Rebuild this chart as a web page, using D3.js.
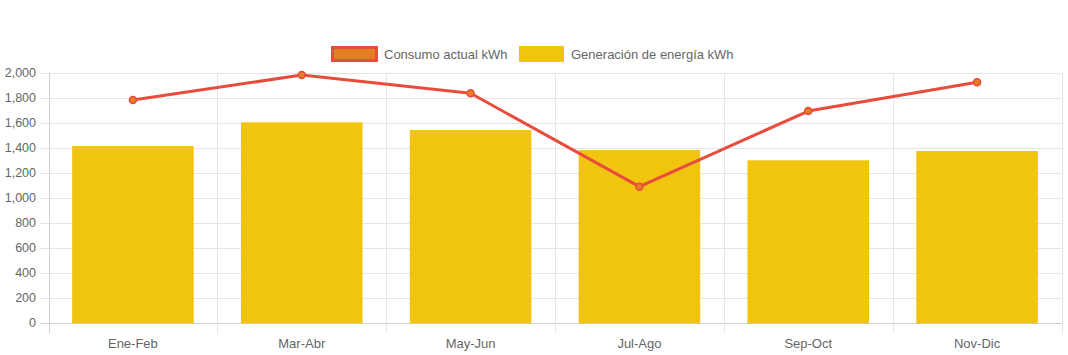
<!DOCTYPE html>
<html><head><meta charset="utf-8">
<script src="https://cdn.jsdelivr.net/npm/d3@7"></script>
<style>
html,body{margin:0;padding:0;background:#fff;}
svg{display:block;}
text{font-family:"Liberation Sans",Arial,sans-serif;}
</style></head>
<body>
<svg id="c" width="1068" height="355"></svg>
<script>
const categories = ["Ene-Feb","Mar-Abr","May-Jun","Jul-Ago","Sep-Oct","Nov-Dic"];
const consumo = [1786, 1986, 1840, 1093, 1698, 1928];
const generacion = [1418, 1608, 1546, 1386, 1304, 1378];
const yTicks = [0,200,400,600,800,1000,1200,1400,1600,1800,2000];
const seriesNames = ["Consumo actual kWh","Generación de energía kWh"];

const svg = d3.select("#c");
const L = 48.5, R = 1061.5, T = 73.3, B = 323.3;
const x = d3.scaleBand().domain(categories).range([L, R]).padding(0);
const y = d3.scaleLinear().domain([0, 2000]).range([B, T]);
const fmt = d3.format(",");

// horizontal grid + y tick marks
const gy = svg.append("g");
yTicks.forEach(t => {
  gy.append("line").attr("x1", 40).attr("x2", R).attr("y1", Math.round(y(t))+0.5).attr("y2", Math.round(y(t))+0.5)
    .attr("stroke", t===0 ? "#d0d0d0" : "#e5e5e5").attr("stroke-width", 1);
  gy.append("text").attr("x", 36).attr("y", Math.round(y(t))).attr("dy", "0.35em")
    .attr("text-anchor", "end").attr("font-size", 12.5).attr("fill", "#666").text(fmt(t));
});
// vertical grid lines
const bounds = categories.map(c => x(c)).concat([R]);
bounds.forEach((bx, i) => {
  svg.append("line").attr("x1", Math.round(bx)+0.5).attr("x2", Math.round(bx)+0.5)
    .attr("y1", T).attr("y2", B + 10)
    .attr("stroke", i===0 ? "#cfcfcf" : "#e5e5e5").attr("stroke-width", 1);
});
// x labels
categories.forEach(c => {
  svg.append("text").attr("x", x(c) + x.bandwidth()/2).attr("y", 343).attr("dy", "0.35em")
    .attr("text-anchor", "middle").attr("font-size", 13).attr("fill", "#666").text(c);
});
// bars
const bw = x.bandwidth() * 0.72;
svg.append("g").selectAll("rect").data(generacion).join("rect")
  .attr("x", (d,i) => x(categories[i]) + (x.bandwidth()-bw)/2)
  .attr("width", bw)
  .attr("y", d => y(d))
  .attr("height", d => B - y(d))
  .attr("fill", "#F1C40F");
// line
const line = d3.line().x((d,i) => x(categories[i]) + x.bandwidth()/2).y(d => y(d));
svg.append("path").datum(consumo).attr("d", line).attr("fill", "none")
  .attr("stroke", "#E74C3C").attr("stroke-width", 3).attr("stroke-linejoin", "round");
svg.append("g").selectAll("circle").data(consumo).join("circle")
  .attr("cx", (d,i) => x(categories[i]) + x.bandwidth()/2)
  .attr("cy", d => y(d)).attr("r", 3.5)
  .attr("fill", "#E67E22").attr("stroke", "#E74C3C").attr("stroke-width", 1.5);

// legend
const lg = svg.append("g");
lg.append("rect").attr("x", 332.5).attr("y", 47.5).attr("width", 44).attr("height", 13)
  .attr("fill", "#E67E22").attr("stroke", "#E74C3C").attr("stroke-width", 3);
lg.append("text").attr("x", 384).attr("y", 54.5).attr("dy", "0.35em").attr("font-size", 13)
  .attr("fill", "#666").text(seriesNames[0]);
lg.append("rect").attr("x", 519).attr("y", 46).attr("width", 45).attr("height", 16)
  .attr("fill", "#F1C40F");
lg.append("text").attr("x", 571).attr("y", 54.5).attr("dy", "0.35em").attr("font-size", 13)
  .attr("fill", "#666").text(seriesNames[1]);
</script>
</body></html>
